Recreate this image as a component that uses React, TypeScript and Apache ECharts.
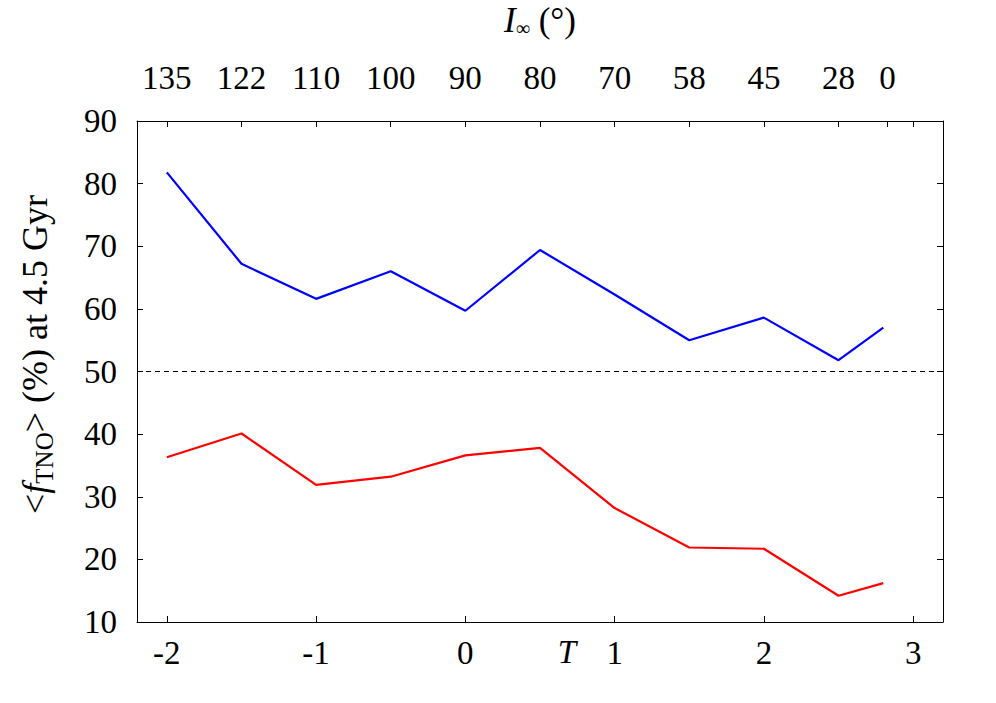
import React, { useEffect, useRef } from "react";
import * as echarts from "echarts";

const tValues = [-2, -1.5, -1, -0.5, 0, 0.5, 1, 1.5, 2, 2.5, 2.8];
const blueValues = [81.8, 67.2, 61.6, 66.0, 59.7, 69.4, 62.3, 55.0, 58.6, 51.8, 57.0];
const redValues = [36.3, 40.1, 31.9, 33.2, 36.6, 37.8, 28.2, 21.9, 21.7, 14.2, 16.2];
const bottomTicks = [-2, -1, 0, 1, 2, 3];
const topTickT = [-2, -1.5, -1, -0.5, 0, 0.5, 1, 1.5, 2, 2.5, 2.828];
const topTickLabels = ["135", "122", "110", "100", "90", "80", "70", "58", "45", "28", "0"];
const topTickMarks = [...topTickT, 3];
const referenceLevel = 50;

const FONT = "Liberation Serif";
const FS = 33;
const NFS = 36;

export default function App() {
  const ref = useRef<HTMLDivElement>(null);
  useEffect(() => {
    if (!ref.current) return;
    const chart = echarts.init(ref.current, null, { renderer: "svg" });
    const toPairs = (ys: number[]) => tValues.map((t, i) => [t, ys[i]]);
    const frameLine = { show: true, onZero: false, lineStyle: { color: "#000", width: 1 } };
    const tick = (extra: any = {}) => ({ show: true, inside: true, length: 6, lineStyle: { color: "#000", width: 1 }, ...extra });
    chart.setOption({
      animation: false,
      backgroundColor: "#fff",
      grid: { left: 137, right: 53, top: 121, bottom: 81, containLabel: false, outerBoundsMode: "none" },
      xAxis: [
        {
          type: "value",
          position: "bottom",
          min: -2.2,
          max: 3.2,
          name: "T",
          nameLocation: "middle",
          nameGap: 13,
          nameMoveOverlap: false,
          nameTextStyle: { fontFamily: FONT, fontSize: FS, fontStyle: "italic", color: "#000", padding: [0, 0, 0, 54] },
          axisLine: frameLine,
          axisTick: tick({ customValues: bottomTicks }),
          axisLabel: {
            customValues: bottomTicks,
            fontFamily: FONT,
            fontSize: FS,
            color: "#000",
            margin: 14,
            formatter: (v: number) => String(v),
          },
          splitLine: { show: false },
        },
        {
          type: "value",
          position: "top",
          min: -2.2,
          max: 3.2,
          name: "{i|I}{s|∞}{n| (°)}",
          nameLocation: "middle",
          nameGap: 83,
          nameMoveOverlap: false,
          nameTextStyle: {
            fontFamily: FONT,
            fontSize: 35,
            color: "#000",
            rich: {
              i: { fontFamily: FONT, fontSize: 35, fontStyle: "italic", color: "#000" },
              s: { fontFamily: FONT, fontSize: 20, color: "#000", padding: [14, 0, 0, 0] },
              n: { fontFamily: FONT, fontSize: 35, color: "#000" },
            },
          },
          axisLine: frameLine,
          axisTick: tick({ customValues: topTickMarks }),
          axisLabel: {
            customValues: topTickT,
            fontFamily: FONT,
            fontSize: FS,
            color: "#000",
            margin: 27,
            formatter: (v: number) => {
              const i = topTickT.findIndex((t) => Math.abs(t - v) < 1e-6);
              return i >= 0 ? topTickLabels[i] : "";
            },
          },
          splitLine: { show: false },
        },
      ],
      yAxis: [
        {
          type: "value",
          position: "left",
          min: 10,
          max: 90,
          interval: 10,
          name: "{a|<}{f|f}{s|TNO}{a|> (%) at 4.5 Gyr}",
          nameLocation: "middle",
          nameGap: 80,
          nameRotate: 90,
          nameMoveOverlap: false,
          nameTextStyle: {
            fontFamily: FONT,
            fontSize: NFS,
            color: "#000",
            padding: [0, 0, 0, 34],
            rich: {
              a: { fontFamily: FONT, fontSize: NFS, color: "#000" },
              f: { fontFamily: FONT, fontSize: NFS, fontStyle: "italic", color: "#000" },
              s: { fontFamily: FONT, fontSize: 25, color: "#000", padding: [19, 0, 0, 0] },
            },
          },
          axisLine: frameLine,
          axisTick: tick(),
          axisLabel: { fontFamily: FONT, fontSize: FS, color: "#000", margin: 20 },
          splitLine: { show: false },
        },
        {
          type: "value",
          position: "right",
          min: 10,
          max: 90,
          interval: 10,
          axisLine: frameLine,
          axisTick: tick(),
          axisLabel: { show: false },
          splitLine: { show: false },
        },
      ],
      series: [
        {
          type: "line",
          data: toPairs(blueValues),
          symbol: "none",
          lineStyle: { color: "#0000ff", width: 2.2 },
          itemStyle: { color: "#0000ff" },
          markLine: {
            silent: true,
            symbol: ["none", "none"],
            label: { show: false },
            lineStyle: { color: "#000", width: 1, type: [5, 4] },
            data: [{ yAxis: referenceLevel }],
          },
        },
        {
          type: "line",
          data: toPairs(redValues),
          symbol: "none",
          lineStyle: { color: "#ff0000", width: 2.2 },
          itemStyle: { color: "#ff0000" },
        },
      ],
    });
    return () => chart.dispose();
  }, []);
  return <div ref={ref} style={{ position: "fixed", left: 0, top: 0, width: 996, height: 703 }} />;
}
